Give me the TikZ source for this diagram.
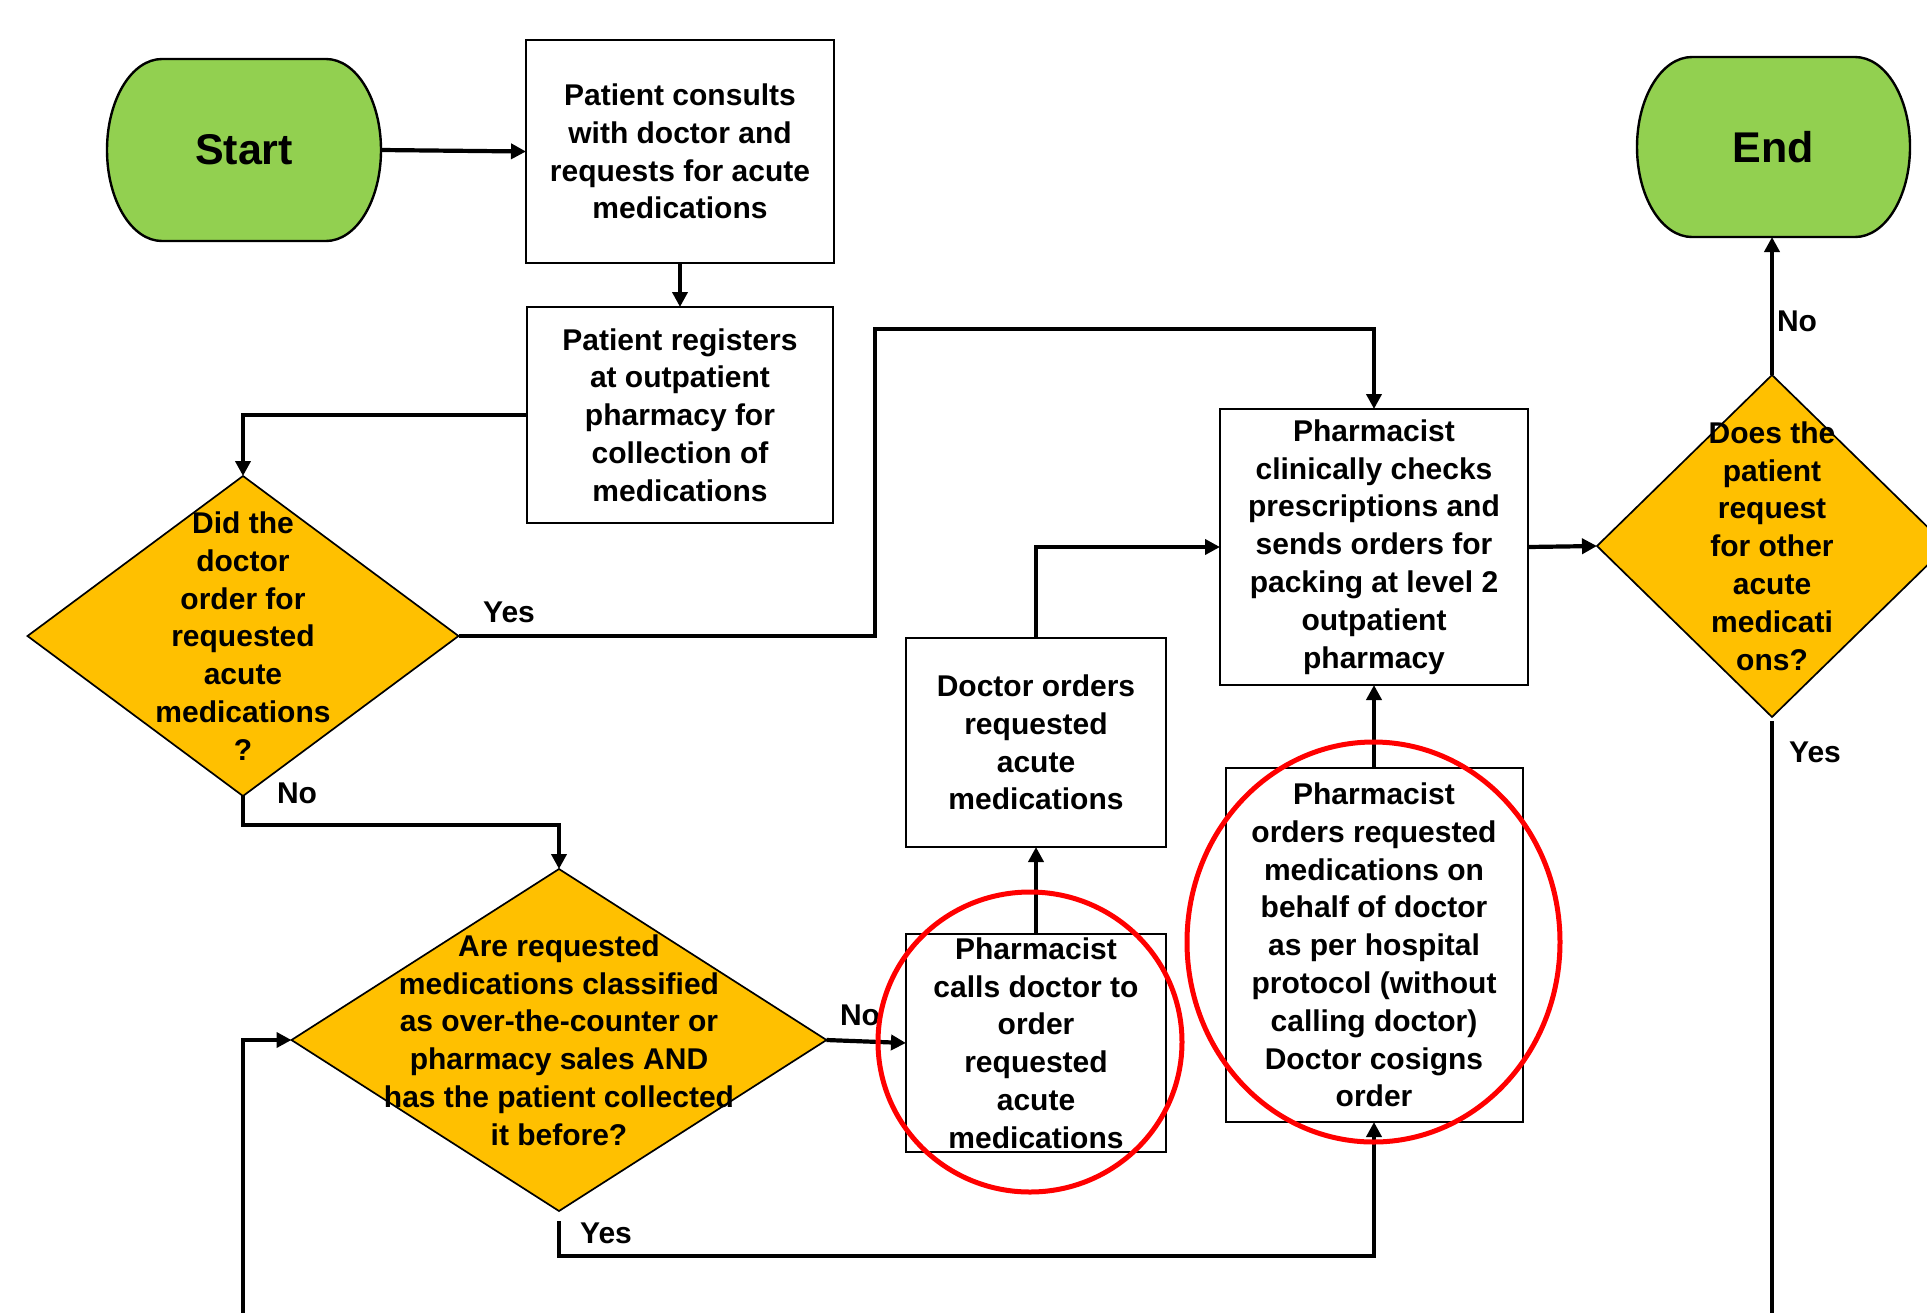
\documentclass[tikz,border=0pt]{standalone}
\usepackage{fontspec}
\setmainfont{Liberation Sans}
\usetikzlibrary{shapes.geometric,arrows.meta}
\definecolor{termgreen}{HTML}{92D050}
\definecolor{decfill}{HTML}{FFC000}
\definecolor{ringred}{HTML}{FF0000}
\newcommand\txtfont{\bfseries\fontsize{15pt}{18.9pt}\selectfont}
\newcommand\termfont{\bfseries\fontsize{21.5pt}{25pt}\selectfont}
\tikzset{
  procbox/.style={draw=black, line width=1pt, fill=white, inner sep=0pt, outer sep=0pt, align=center, font=\txtfont},
  decision/.style={diamond, draw=black, line width=0.85pt, fill=decfill, inner sep=0pt, outer sep=0pt},
  dectext/.style={align=center, font=\txtfont, inner sep=0pt},
  termshape/.style={draw=black, line width=1.2pt, fill=termgreen},
  termtext/.style={font=\termfont, inner sep=0pt, outer sep=0pt},
  flow/.style={draw=black, line width=2.1pt},
  arr/.style={flow, -{Triangle[length=7.5pt,width=7.5pt]}},
  lbl/.style={font=\txtfont, inner sep=0pt},
  ring/.style={ellipse, draw=ringred, line width=2.5pt, inner sep=0pt, outer sep=0pt}
}
\begin{document}
\begin{tikzpicture}[x=0.5pt,y=-0.5pt]
\useasboundingbox (0,0) rectangle (1927,1312);
\clip (0,0) rectangle (1927,1312);

% terminators
\draw[termshape] (162,59) -- (326,59) arc[start angle=90,end angle=-90,x radius=27.5pt,y radius=45.5pt] -- (162,241) arc[start angle=-90,end angle=-270,x radius=27.5pt,y radius=45.5pt] -- cycle;
\node[termtext, minimum width=137pt, minimum height=91pt] (start) at (244,150) {Start};
\draw[termshape] (1692,57) -- (1855,57) arc[start angle=90,end angle=-90,x radius=27.5pt,y radius=45pt] -- (1692,237) arc[start angle=-90,end angle=-270,x radius=27.5pt,y radius=45pt] -- cycle;
\node[termtext, minimum width=136.5pt, minimum height=90pt] (end) at (1773.5,147) {End};

% process boxes
\node[procbox, minimum width=154pt, minimum height=111.5pt] (b1) at (680,151.5)
  {Patient consults\\with doctor and\\requests for acute\\medications};
\node[procbox, minimum width=153pt, minimum height=108pt] (b2) at (680,415)
  {Patient registers\\at outpatient\\pharmacy for\\collection of\\medications};
\node[procbox, minimum width=154pt, minimum height=138pt] (b3) at (1374,547)
  {Pharmacist\\clinically checks\\prescriptions and\\sends orders for\\packing at level 2\\outpatient\\pharmacy};
\node[procbox, minimum width=130pt, minimum height=104.5pt] (b5) at (1036,742.5)
  {Doctor orders\\requested\\acute\\medications};
\node[procbox, minimum width=130pt, minimum height=109pt] (b4) at (1036,1043)
  {Pharmacist\\calls doctor to\\order\\requested\\acute\\medications};
\node[procbox, minimum width=148.5pt, minimum height=177pt] (b6) at (1374,945)
  {Pharmacist\\orders requested\\medications on\\behalf of doctor\\as per hospital\\protocol (without\\calling doctor)\\Doctor cosigns\\order};

% decisions
\node[decision, minimum width=215.5pt, minimum height=160pt] (d1) at (243,636) {};
\node[dectext] (d1t) at (d1.center) {Did the\\doctor\\order for\\requested\\acute\\medications\\?};
\node[decision, minimum width=267.5pt, minimum height=171pt] (d2) at (559,1040) {};
\node[dectext] (d2t) at (d2.center) {Are requested\\medications classified\\as over-the-counter or\\pharmacy sales AND\\has the patient collected\\it before?};
\node[decision, minimum width=175pt, minimum height=171pt] (d4) at (1772,546) {};
\node[dectext] (d4t) at (d4.center) {Does the\\patient\\request\\for other\\acute\\medicati\\ons?};

% helper coordinates
\coordinate (yup) at (875,329);
\coordinate (nodown) at (559,825);
\coordinate (ybot) at (1374,1256);
\coordinate (loopin) at (243,1330);
\coordinate (d4out) at (1772,1330);

% connectors
\draw[arr] (start.east) -- (b1.west);
\draw[arr] (b1.south) -- (b2.north);
\draw[arr] (b2.west) -| (d1.north);
\draw[arr] (d1.east) -| (yup) -| (b3.north);
\draw[arr] (d1.south) |- (nodown) -- (d2.north);
\draw[arr] (d2.east) -- (b4.west);
\draw[arr] (b4.north) -- (b5.south);
\draw[arr] (b5.north) |- (b3.west);
\draw[arr] (b6.north) -- (b3.south);
\draw[arr] (d2.south) ++(0,10) |- (ybot) -- (b6.south);
\draw[arr] (loopin) |- (d2.west);
\draw[arr] (b3.east) -- (d4.west);
\draw[arr] (d4.north) -- (d4.north |- end.south);
\draw[flow] (d4.south) ++(0,4) -- (d4out);

% labels
\node[lbl] (lyes1) at (509,612) {Yes};
\node[lbl] (lno1) at (297,793) {No};
\node[lbl] (lno2) at (860,1015) {No};
\node[lbl] (lyes2) at (606,1233) {Yes};
\node[lbl] (lno4) at (1797,321) {No};
\node[lbl] (lyes4) at (1815,752) {Yes};

% red highlight rings
\node[ring, minimum width=152pt, minimum height=150pt] (ring1) at (1030,1042) {};
\node[ring, minimum width=186.5pt, minimum height=200pt] (ring2) at (1373.5,942) {};
\end{tikzpicture}
\end{document}
